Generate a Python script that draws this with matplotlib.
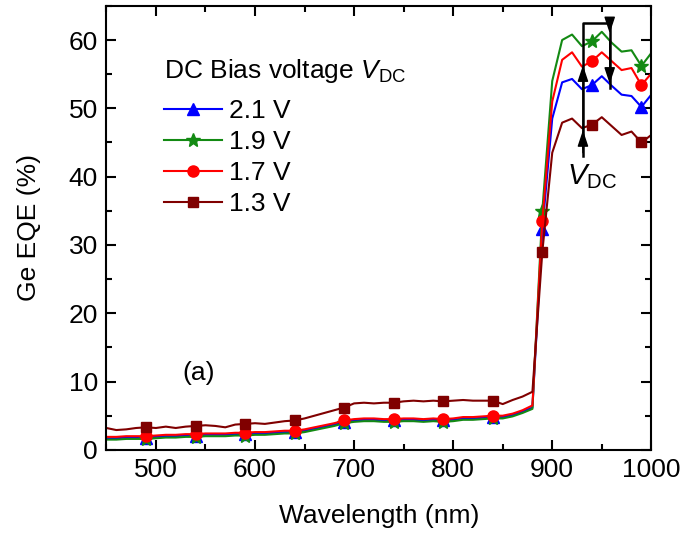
import numpy as np
import matplotlib
matplotlib.use("Agg")
import matplotlib.pyplot as plt
from matplotlib.ticker import MultipleLocator

plt.rcParams['font.family'] = ['Liberation Sans', 'DejaVu Sans']
plt.rcParams['mathtext.fontset'] = 'custom'
plt.rcParams['mathtext.rm'] = 'Liberation Sans'
plt.rcParams['mathtext.it'] = 'Liberation Sans:italic'

wavelength = list(range(450, 1001, 10))

eqe_21 = [1.7, 1.7, 1.8, 1.8, 1.8, 1.9, 2.0, 2.0, 2.1, 2.1, 2.2, 2.2, 2.2, 2.3, 2.3, 2.4, 2.4, 2.5, 2.6, 2.6,
          2.8, 3.1, 3.4, 3.7, 4.1, 4.3, 4.4, 4.4, 4.3, 4.3, 4.4, 4.4, 4.3, 4.4, 4.3, 4.4, 4.6, 4.6, 4.7, 4.8,
          4.8, 5.1, 5.6, 6.2, 32.3, 48.5, 53.8, 54.3, 52.8, 53.4, 54.7, 53.3, 52.0, 51.8, 50.2, 52.0]
eqe_19 = [1.5, 1.5, 1.6, 1.6, 1.6, 1.7, 1.8, 1.8, 1.9, 1.9, 2.0, 2.0, 2.0, 2.1, 2.1, 2.2, 2.2, 2.3, 2.4, 2.4,
          2.6, 2.9, 3.2, 3.5, 3.9, 4.1, 4.2, 4.2, 4.1, 4.1, 4.2, 4.2, 4.1, 4.2, 4.1, 4.2, 4.4, 4.4, 4.5, 4.6,
          4.6, 4.9, 5.4, 6.0, 35.0, 54.0, 60.0, 60.8, 59.1, 59.8, 61.2, 59.6, 58.3, 58.5, 56.2, 58.1]
eqe_17 = [1.9, 1.9, 2.0, 2.0, 2.0, 2.1, 2.2, 2.2, 2.3, 2.3, 2.4, 2.4, 2.4, 2.5, 2.5, 2.6, 2.6, 2.7, 2.8, 2.8,
          3.0, 3.3, 3.6, 3.9, 4.3, 4.5, 4.6, 4.6, 4.5, 4.5, 4.6, 4.6, 4.5, 4.6, 4.5, 4.6, 4.8, 4.8, 4.9, 5.0,
          5.0, 5.3, 5.8, 6.5, 33.5, 51.0, 57.1, 58.2, 56.1, 56.9, 58.2, 56.9, 55.6, 55.9, 53.4, 55.1]
eqe_13 = [3.2, 2.9, 3.0, 3.2, 3.3, 3.2, 3.4, 3.2, 3.4, 3.5, 3.6, 3.5, 3.3, 3.7, 3.8, 3.9, 3.8, 4.0, 4.2, 4.3,
          4.6, 5.0, 5.4, 5.8, 6.2, 6.8, 6.9, 6.8, 6.9, 6.9, 7.1, 7.2, 7.1, 7.2, 7.1, 7.2, 7.3, 7.2, 7.2, 7.2,
          6.7, 7.3, 7.8, 8.5, 29.0, 43.5, 47.9, 48.5, 47.1, 47.6, 48.7, 47.4, 46.1, 46.6, 45.0, 46.1]

series = [
    ("2.1 V", eqe_21, "#0000ff", "^", 8),
    ("1.9 V", eqe_19, "#138a13", "*", 10),
    ("1.7 V", eqe_17, "#ff0000", "o", 8),
    ("1.3 V", eqe_13, "#800000", "s", 7),
]

fs = 19

fig = plt.figure(figsize=(6.82, 5.33), dpi=100)
ax = fig.add_axes([0.156, 0.156, 0.799, 0.833])

for label, vals, col, mk, ms in series:
    ax.plot(wavelength, vals, color=col, lw=1.5, marker=mk, ms=ms,
            markevery=slice(4, None, 5), label=label)

# V_DC arrows
arr = dict(arrowstyle='-|>,head_length=0.9,head_width=0.3', color='black', lw=1.0,
           mutation_scale=11, shrinkA=0, shrinkB=0)
ax.plot([931, 931, 958, 958], [43.0, 62.5, 62.5, 53.0], color='black', lw=1.8)
for y0, y1 in [(43.5, 46.8), (44.0, 56.3)]:
    ax.annotate('', xy=(931, y1), xytext=(931, y0), arrowprops=arr)
for y0, y1 in [(62.5, 61.0), (60.0, 53.6)]:
    ax.annotate('', xy=(958, y1), xytext=(958, y0), arrowprops=arr)
ax.text(940, 40.0, r"$V_{\rm DC}$", fontsize=21, ha='center', va='center')

ax.text(527, 11.3, "(a)", fontsize=fs, ha='left', va='center')

leg = ax.legend(loc='upper left', bbox_to_anchor=(0.105, 0.885), frameon=False, fontsize=fs,
                title=r"DC Bias voltage $V_{\rm DC}$", title_fontsize=fs, alignment='left',
                handlelength=2.2, handletextpad=0.27, labelspacing=0.27, borderaxespad=0,
                borderpad=0)
leg._legend_box.sep = 10

ax.set_xlim(450, 1000)
ax.set_ylim(0, 65)
ax.xaxis.set_major_locator(MultipleLocator(100))
ax.xaxis.set_minor_locator(MultipleLocator(50))
ax.yaxis.set_major_locator(MultipleLocator(10))
ax.yaxis.set_minor_locator(MultipleLocator(5))
ax.tick_params(which='both', direction='in', top=True, right=True, labelsize=fs, width=1.5)
ax.tick_params(which='major', length=7, pad=6)
ax.tick_params(which='minor', length=4)
for s in ax.spines.values():
    s.set_linewidth(1.5)

ax.set_xlabel("Wavelength (nm)", fontsize=fs, labelpad=16)
ax.set_ylabel("Ge EQE (%)", fontsize=fs, labelpad=20)

fig.savefig("out.png", dpi=100)
